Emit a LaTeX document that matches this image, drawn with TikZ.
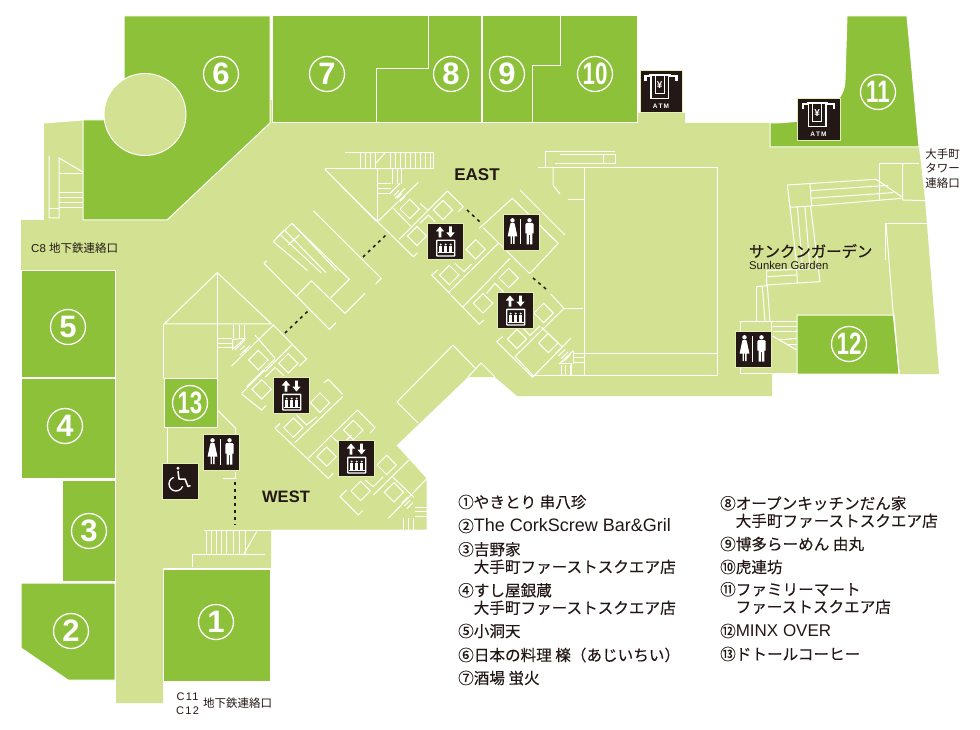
\documentclass[tikz,border=0pt]{standalone}
\usepackage{graphicx}
\usepackage{fontspec}
\setmainfont{Liberation Sans}
\newfontfamily\jp{Noto Sans CJK JP}
\newfontfamily\jpb[FakeBold=0.5]{Noto Sans CJK JP}
\newfontfamily\jpl[FakeBold=0.15]{Noto Sans CJK JP}
\definecolor{lightg}{HTML}{D2E292}
\definecolor{darkg}{HTML}{8DC139}
\definecolor{ink}{HTML}{231815}
\definecolor{pale}{HTML}{E4EDB8}
\tikzset{
 wl/.style={draw=white,line width=1pt},
 shop/.style={fill=darkg,draw=white,line width=1pt},
 num/.style={circle,draw=white,line width=1.3pt,text=white,minimum size=35pt,inner sep=0pt,font=\fontsize{31}{31}\selectfont\bfseries},
 dashln/.style={draw=ink,line width=1.5pt,dash pattern=on 3pt off 4pt},
 leg/.style={anchor=west,align=left,inner sep=0pt,text=ink,font=\jpl\fontsize{15.6}{17.5}\selectfont},
 lab/.style={inner sep=0pt,text=ink,align=center},
 iconbox/.style={fill=ink,draw=pale,line width=0.7pt},
 iconelev/.pic={
  \path[iconbox] (0,0) rectangle (36,36);
  \fill[white] (13,3.5)--(17.2,8.5)--(14.3,8.5)--(14.3,14.5)--(11.7,14.5)--(11.7,8.5)--(8.8,8.5)--cycle;
  \fill[white] (23.5,14.5)--(27.7,9.5)--(24.8,9.5)--(24.8,3.5)--(22.2,3.5)--(22.2,9.5)--(19.3,9.5)--cycle;
  \draw[white,line width=1.4pt,rounded corners=0.6pt] (9.7,17.3) rectangle (27.7,33);
  \foreach \px in {13.7,18.7,23.7}{
   \fill[white] (\px,21.6) circle (1.1);
   \fill[white] (\px-1.5,23.2) rectangle (\px+1.5,29.5);
  }
  \fill[white] (10.5,29.5) rectangle (27,30.3);
 },
 iconwc/.pic={
  \path[iconbox] (0,0) rectangle (36,36);
  \fill[white] (9.5,6.3) circle (2.2);
  \fill[white] (7.6,9)--(11.4,9)--(12.4,13)--(14.4,22.5)--(11.5,22.5)--(11.5,30)--(10.2,30)--(10.2,22.5)--(8.8,22.5)--(8.8,30)--(7.5,30)--(7.5,22.5)--(4.6,22.5)--(6.6,13)--cycle;
  \fill[white] (17.2,5) rectangle (18.4,30.5);
  \fill[white] (26.5,6.3) circle (2.2);
  \fill[white] (23.5,9)--(29.5,9)--(30.7,10.5)--(30.7,19.5)--(29.4,19.5)--(29.4,30.5)--(27,30.5)--(27,21)--(26,21)--(26,30.5)--(23.6,30.5)--(23.6,19.5)--(22.3,19.5)--(22.3,10.5)--cycle;
 },
 iconwheel/.pic={
  \path[iconbox] (0,0) rectangle (36,36);
  \fill[white] (16,5.2) circle (1.6);
  \draw[white,line width=1.5pt,line join=round] (16,8)--(17,16)--(23,16)--(26,23.5)--(28.5,22.5);
  \draw[white,line width=1.3pt] (11.6,14.4) arc[start angle=110,end angle=340,radius=7pt];
 },
 iconatm/.pic={
  \path[iconbox] (0,0) rectangle (42.5,42.5);
  \draw[white,line width=2.2pt] (5.5,11)--(5.5,6)--(11,6);
  \draw[white,line width=2.2pt] (28.5,6)--(36.5,6)--(36.5,11);
  \draw[white,line width=1.5pt] (11,5)--(11,28.5)--(28.5,28.5)--(28.5,5);
  \draw[white,line width=1.5pt] (9,5)--(30.5,5);
  \draw[white,line width=1pt] (15,5.5)--(15,23.5)--(24.3,23.5)--(24.3,5.5);
  \node[text=white,inner sep=0pt,font=\fontsize{10}{10}\selectfont\bfseries] (yen) at (19.6,15.5) {¥};
  \node[text=white,inner sep=0pt,font=\fontsize{6.5}{6.5}\selectfont\bfseries] (atmt) at (21,36) {A\,T\,M};
 },
}
\begin{document}
\begin{tikzpicture}[x=1pt,y=-1pt]
\useasboundingbox[fill=white] (0,0) rectangle (980,730);
% base floor
\fill[lightg] (43,123)--(83,120)--(124,120)--(124,100)--(637,100)--(637,113)--(685,113)--(685,123)--(772,123)--(845,123)--(850,100)--(905,100)--(919,147)--(925,200)--(939,374)--(772,374)--(772,396)--(517,396)--(495,377)--(468,377)--(397,445)--(427,478)--(427,530)--(271,530)--(271,568)--(163,568)--(163,703)--(116,703)--(116,270)--(21,270)--(21,220)--(43,220)--cycle;
% shops
\path[shop] (124,16)--(270,16)--(270,123)--(167,220)--(83,220)--(83,120)--(124,120)--cycle;
\path[fill=lightg,draw=white,line width=1pt] (145,114.5) circle (41);
\path[shop] (272,16)--(428,16)--(428,69)--(376,69)--(376,123)--(272,123)--cycle;
\path[shop] (376,123)--(376,69)--(428,69)--(428,16)--(481,16)--(481,123)--cycle;
\path[shop] (482,16)--(560,16)--(560,66)--(532,66)--(532,123)--(482,123)--cycle;
\path[shop] (532,123)--(532,66)--(560,66)--(560,16)--(637,16)--(637,123)--cycle;
\path[shop] (847,16)--(907,16)--(919,147)--(770,147)--(770,123) .. controls (780,123) and (790,122) .. (800,121)--(840,97) .. controls (843,92) and (845,87) .. (845,80)--cycle;
\path[shop] (797,315)--(894,315)--(899,374)--(797,374)--cycle;
\path[shop] (164,378)--(217,378)--(217,427)--(164,427)--cycle;
\path[shop] (21,270)--(115,270)--(115,377)--(21,377)--cycle;
\path[shop] (21,378)--(115,378)--(115,478)--(21,478)--cycle;
\path[shop] (62,480)--(115,480)--(115,581)--(62,581)--cycle;
\path[shop] (21,583)--(115,583)--(115,680)--(68,680)--(21,648)--cycle;
\path[shop] (163,569)--(270,569)--(270,681)--(163,681)--cycle;
% left stairs
\draw[wl] (43,123)--(43,220);
\draw[wl] (43,123)--(83,120);
\draw[wl] (49,156)--(49,218)--(59,218)--(59,158)--(83,172);
\draw[wl] (49,209)--(59,209);
\foreach \yy in {174,193,198,203,208}{\draw[wl] (59,\yy)--(83,\yy);}
% white line work, east top
\draw[wl] (345,153)--(433,153)--(433,169);
\draw[wl] (325,169)--(433,169);
\foreach \xx in {360,365,370,375,390,395,400,405,410,415,420,425,430}{\draw[wl] (\xx,153)--(\xx,169);}
\draw[wl] (375,164)--(385,153);
\draw[wl] (392,169)--(392,184);
\draw[wl] (397,169)--(397,184);
\draw[wl] (401,169)--(401,184);
\foreach \yy in {184,189,194}{\draw[wl] (377,\yy)--(391,\yy);}
\draw[wl] (377,169)--(377,222);
% big rectangle
\draw[wl] (538,168)--(717,168)--(717,375)--(532,375);
\draw[wl] (584,168)--(584,375);
\draw[wl] (584,353)--(717,353);
\draw[wl] (553,168)--(553,185)--(560,194);
\draw[wl] (568,200)--(584,200);
\draw[wl] (545,168)--(545,152)--(615,152);
\draw[wl] (560,155)--(615,155)--(615,164)--(555,164);
\draw[wl] (603,155)--(603,164);
% zoom 4 coordinates: east groups
\begin{scope}[shift={(340,140)},scale=0.3333]
\draw[wl] (0,135)--(220,350)--(233,338);
\draw[wl] (115,243)--(235,127);
\draw[wl] (322,153)--(370,200)--(355,215);
\draw[wl] (322,153)--(178,298);
\draw[wl] (160,205)--(212,258);
\draw[wl] (240,190)--(262,210);
\draw[wl] (240,250)--(265,225)--(285,245);
\draw[wl] (150,160)--(180,130);
\draw[wl] (165,175)--(195,145);
\foreach \k in {0,1,2,3}{\draw[wl] (153+\k*9,157+\k*9)--(168+\k*9,142+\k*9);}
\foreach \cx/\cy in {209/207,309/210,231/288,407/328,328/405,506/414,429/490,611/519,531/597,625/609}{
 \draw[wl] (\cx-29,\cy)--(\cx,\cy-29)--(\cx+29,\cy)--(\cx,\cy+29)--cycle;}
\draw[wl] (275,405)--(293,390);
\draw[wl] (275,405)--(418,553)--(432,540);
\draw[wl] (325,458)--(475,310);
\draw[wl] (370,500)--(510,355);
\draw[wl] (345,370)--(372,395)--(395,372);
\draw[wl] (440,460)--(465,430)--(495,460);
\draw[wl] (418,265)--(517,175)--(655,310)--(575,395);
\draw[wl] (430,263)--(568,400)--(575,395);
\draw[wl] (540,150)--(675,285);
\draw[wl] (610,267)--(640,297);
\draw[wl] (632,462)--(672,505)--(525,650);
\draw[wl] (672,505)--(730,505);
\draw[wl] (470,605)--(488,590);
\draw[wl] (470,605)--(578,712)--(692,595);
\draw[wl] (525,650)--(578,705);
\draw[wl] (548,563)--(570,587)--(600,558);
\draw[wl] (605,562)--(668,622);
\foreach \k in {0,1,2,3}{\draw[wl] (647+\k*8,640+\k*8)--(668+\k*8,620+\k*8);}
\foreach \yy in {640,653,667}{\draw[wl] (700,\yy)--(733,\yy);}
\foreach \xx in {665,678,692}{\draw[wl] (\xx,675)--(\xx,705);}
\draw[wl] (658,672)--(700,632);
\draw[wl] (658,672)--(695,672)--(695,705);
\draw[wl] (700,632)--(700,672);
\end{scope}
% lower-centre block
\draw[wl] (397,402)--(453,345)--(475,368);
\draw[wl] (397,402)--(418,423);
\draw[wl] (468,377)--(481,363)--(495,377);
\draw[wl] (397,445)--(427,478)--(427,530)--(271,530);
% zoom 10 coordinates: centre escalators
\begin{scope}[shift={(240,140)},scale=0.3333]
\draw[wl] (255,88)--(410,245);
\draw[wl] (220,212)--(424,415)--(407,432);
\draw[wl] (156,250)--(328,418)--(272,473);
\draw[wl] (100,305)--(155,250);
\draw[wl] (100,305)--(203,392);
\draw[wl] (108,295)--(133,270);
\draw[wl] (133,270)--(258,398);
\draw[wl] (120,283)--(243,398);
\draw[wl] (145,315)--(178,285);
\draw[wl] (157,250)--(290,392);
\draw[wl] (72,370)--(80,362);
\draw[wl] (72,370)--(268,568)--(288,548);
\draw[wl] (168,470)--(214,422);
\draw[wl] (214,422)--(315,520)--(375,460);
\end{scope}
% zoom 5 coordinates: west groups
\begin{scope}[shift={(140,260)},scale=0.3333]
\draw[wl] (72,192)--(232,38)--(395,192)--cycle;
\draw[wl] (232,38)--(232,355);
\draw[wl] (72,192)--(72,355);
\draw[wl] (232,450)--(287,505)--(287,522);
\draw[wl] (82,505)--(82,610);
\draw[wl] (250,657)--(287,657)--(287,635);
\foreach \yy in {237,250,263}{\draw[wl] (232,\yy)--(276,\yy);}
\foreach \xx in {280,298,315}{\draw[wl] (\xx,195)--(\xx,235);}
\draw[wl] (278,238)--(315,235)--(278,268)--cycle;
\draw[wl] (285,270)--(315,240);
\draw[wl] (300,285)--(330,255);
\foreach \k in {0,1,2}{\draw[wl] (292+\k*9,262+\k*7)--(305+\k*9,250+\k*7);}
\draw[wl] (275,318)--(400,195)--(500,297)--(478,318);
\draw[wl] (345,225)--(405,295);
\draw[wl] (455,255)--(375,335);
\draw[wl] (405,297)--(320,380);
\draw[wl] (305,400)--(375,330);
\draw[wl] (305,402)--(365,450)--(378,437);
\draw[wl] (375,352)--(405,322)--(432,347);
\foreach \cx/\cy in {355/300,445/310,365/388,540/428,460/503,640/510,560/590,740/615,662/693,762/697}{
 \draw[wl] (\cx-29,\cy)--(\cx,\cy-29)--(\cx+29,\cy)--(\cx,\cy+29)--cycle;}
\draw[wl] (552,368)--(565,358)--(608,403);
\draw[wl] (608,410)--(465,548);
\draw[wl] (405,505)--(420,490);
\draw[wl] (405,505)--(565,655)--(580,640);
\draw[wl] (652,450)--(705,503)--(690,520);
\draw[wl] (652,450)--(505,595);
\draw[wl] (470,465)--(500,495)--(530,470);
\draw[wl] (575,530)--(605,555)--(635,525);
\draw[wl] (600,710)--(620,690);
\draw[wl] (600,710)--(655,765)--(668,752);
\draw[wl] (745,775)--(862,655);
\draw[wl] (807,600)--(700,705);
\draw[wl] (675,660)--(700,680)--(730,650);
\draw[wl] (755,648)--(822,712);
\foreach \k in {0,1,2}{\draw[wl] (785+\k*8,730+\k*8)--(803+\k*8,712+\k*8);}
\foreach \yy in {742,755,769}{\draw[wl] (825,\yy)--(862,\yy);}
\foreach \xx in {790,805,820}{\draw[wl] (\xx,775)--(\xx,810);}
\end{scope}
% stairs above shop 1
\begin{scope}[shift={(0,470)},scale=0.3333]
\draw[wl] (612,183)--(812,183);
\foreach \xx in {620,635,650,665,680,700,720,738}{\draw[wl] (\xx,183)--(\xx,255);}
\draw[wl] (770,185)--(730,255);
\draw[wl] (578,292)--(578,255)--(795,255);
\draw[wl] (490,295)--(810,295);
\end{scope}
% zoom 3 coordinates: tower link and sunken stairs
\begin{scope}[shift={(640,0)},scale=0.3333]
\draw[wl] (718,600)--(718,492)--(838,492);
\draw[wl] (788,492)--(788,600)--(855,602);
\draw[wl] (442,555)--(708,538)--(785,590);
\draw[wl] (442,555)--(450,622)--(515,618)--(510,552);
\draw[wl] (515,618)--(785,595);
\draw[wl] (512,572)--(745,556);
\draw[wl] (512,595)--(760,578);
\draw[wl] (738,780)--(738,672)--(860,672);
\end{scope}
\begin{scope}[shift={(690,170)},scale=0.3333]
\draw[wl] (300,110)--(322,298);
\draw[wl] (322,110)--(338,298);
\draw[wl] (345,110)--(360,298);
\draw[wl] (362,110)--(385,298);
\draw[wl] (588,160)--(610,435);
\draw[wl] (610,435)--(628,612);
\draw[wl] (230,345)--(230,302)--(320,298)--(385,295)--(390,335)--(230,345);
\draw[wl] (232,320)--(320,315);
\draw[wl] (320,298)--(322,340);
\draw[wl] (200,455)--(200,350)--(232,347)--(240,455);
\draw[wl] (217,350)--(225,455);
\draw[wl] (150,612)--(150,455)--(320,455);
\draw[wl] (245,455)--(245,490);
\draw[wl] (248,470)--(320,470);
\draw[wl] (248,485)--(320,485);
\draw[wl] (248,498)--(320,540);
\draw[wl] (270,510)--(320,505);
\draw[wl] (290,525)--(320,525);
\draw[wl] (150,612)--(320,612);
\end{scope}
% dashed routes
\draw[dashln] (363,257)--(387,234);
\draw[dashln] (285,333)--(308,311);
\draw[dashln] (467,210)--(480,222);
\draw[dashln] (533,278)--(546,289);
\draw[dashln] (235,482)--(235,525);
% shop numbers
\node[num] (n1) at (216,622) {1};
\node[num] (n2) at (71,631) {2};
\node[num] (n3) at (89,531) {3};
\node[num] (n4) at (65,426) {4};
\node[num] (n5) at (68,327) {5};
\node[num] (n6) at (221,74) {6};
\node[num] (n7) at (327,74) {7};
\node[num] (n8) at (451,74) {8};
\node[num] (n9) at (507,74) {9};
\node[num] (n10) at (595,74) {\scalebox{.72}[1]{10}};
\node[num] (n11) at (878,92) {\scalebox{.72}[1]{11}};
\node[num] (n12) at (849,344) {\scalebox{.72}[1]{12}};
\node[num] (n13) at (190,403) {\scalebox{.72}[1]{13}};
% icons
\pic (e1) at (427,223) {iconelev};
\pic (e2) at (497,292) {iconelev};
\pic (e3) at (273,377) {iconelev};
\pic (e4) at (338,440) {iconelev};
\pic (w1) at (503,214) {iconwc};
\pic (w2) at (203,434) {iconwc};
\pic (w3) at (735,331) {iconwc};
\pic (h1) at (162,463) {iconwheel};
\pic (a1) at (640,70) {iconatm};
\pic (a2) at (797.5,98) {iconatm};
% labels
\node[lab,font=\fontsize{17}{17}\selectfont\bfseries] (east) at (477,175) {EAST};
\node[lab,font=\fontsize{16.5}{16.5}\selectfont\bfseries] (west) at (286,497) {WEST};
\node[lab,anchor=west,font=\jpb\fontsize{15.4}{16}\selectfont] (sg) at (749,251) {サンクンガーデン};
\node[lab,anchor=west,font=\fontsize{11.3}{12}\selectfont] (sge) at (749,265.5) {Sunken Garden};
\node[lab,anchor=west,font=\fontsize{11.5}{12}\selectfont] (c8) at (31,248) {C8 {\jp 地下鉄連絡口}};
\node[lab,font=\jp\fontsize{11.5}{14.6}\selectfont] (tw) at (942.5,168.5) {大手町\\タワー\\連絡口};
\node[lab,font=\addfontfeature{LetterSpace=12}\fontsize{11}{14}\selectfont] (c11) at (187.5,704) {C11\\C12};
\node[lab,anchor=west,font=\jp\fontsize{11.5}{12}\selectfont] (c11j) at (203,703) {地下鉄連絡口};
% legend
\node[leg] (l1) at (458,502) {①やきとり 串八珍};
\node[leg] (l2) at (458,526) {②{\rmfamily\fontsize{18}{18}\selectfont The CorkScrew Bar\&Gril}};
\node[leg] (l3) at (458,558) {③吉野家\\\hspace*{15.5pt}大手町ファーストスクエア店};
\node[leg] (l4) at (458,599) {④すし屋銀蔵\\\hspace*{15.5pt}大手町ファーストスクエア店};
\node[leg] (l5) at (458,631) {⑤小洞天};
\node[leg] (l6) at (458,655) {⑥日本の料理 檪（あじいちい）};
\node[leg] (l7) at (458,678) {⑦酒場 蛍火};
\node[leg] (l8) at (720,512) {⑧オープンキッチンだん家\\\hspace*{15.5pt}大手町ファーストスクエア店};
\node[leg] (l9) at (720,544) {⑨博多らーめん 由丸};
\node[leg] (l10) at (720,567) {⑩虎連坊};
\node[leg] (l11) at (720,598) {⑪ファミリーマート\\\hspace*{15.5pt}ファーストスクエア店};
\node[leg] (l12) at (720,631) {⑫{\rmfamily\fontsize{17}{17}\selectfont MINX OVER}};
\node[leg] (l13) at (720,654) {⑬ドトールコーヒー};
\end{tikzpicture}
\end{document}
